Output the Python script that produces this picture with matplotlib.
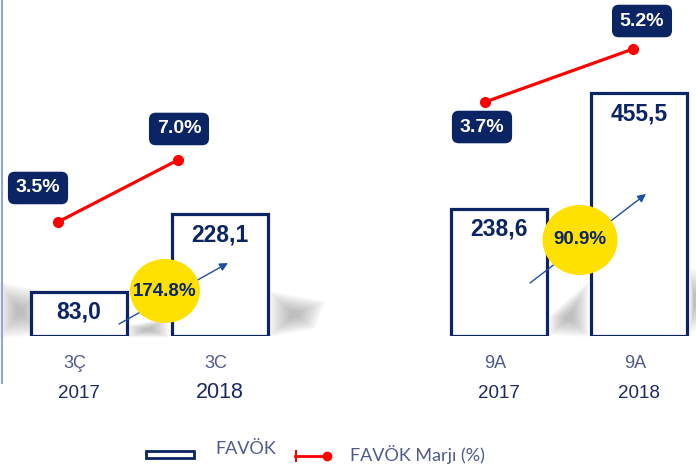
import matplotlib
matplotlib.use("Agg")
import matplotlib.pyplot as plt
from matplotlib.patches import Ellipse, Rectangle, Polygon
import numpy as np

# veriler
periods = ['3Ç', '3C', '9A', '9A']
years = ['2017', '2018', '2017', '2018']
favok = [83.0, 228.1, 238.6, 455.5]          # FAVÖK
margin = [3.5, 7.0, 3.7, 5.2]                # FAVÖK Marjı (%)

# yerlesim (piksel)
W, H = 696, 467
bar_x = [79, 220, 499, 639]
line_x = [58, 178, 485, 633]
lbl_off = [(-20, 34), (1, 31), (-3, -25), (9, 28)]
year_size = [13.5, 15.5, 13.5, 13.5]

navy = '#0B2463'
red = '#FF0000'
yellow = '#FFE100'
grey_blue = '#4F5B8B'

plt.rcParams['font.family'] = ['Liberation Sans', 'DejaVu Sans']

fig = plt.figure(figsize=(W / 100, H / 100), dpi=100)
fig.patch.set_facecolor('white')

# golgeler
sh = fig.add_axes([0, 0, 1, 1])
sh.set_xlim(0, W)
sh.set_ylim(H, 0)
sh.axis('off')
shadows = [
    [(0, 283), (40, 292), (40, 334), (0, 337)],
    [(128, 337), (128, 326), (168, 318), (168, 337)],
    [(270, 336), (270, 292), (324, 302), (314, 328)],
    [(550, 334), (550, 316), (588, 283), (588, 336)],
    [(690, 332), (690, 270), (700, 272), (700, 326)],
]
for pts in shadows:
    pts = np.array(pts, float)
    c = pts.mean(axis=0)
    for s in np.linspace(1.05, 0.2, 14):
        sh.add_patch(Polygon(c + (pts - c) * s, closed=True, fc='#808080',
                             ec='none', alpha=0.045))

# cubuklar
scale = 0.533
ax = fig.add_axes([0, 131 / H, 1, 336 / H])
ax.set_xlim(0, W)
ax.set_ylim(0, 336 / scale)
ax.axis('off')
ax.bar(bar_x, favok, width=96, color='white', edgecolor=navy, linewidth=2.3, zorder=2)
for x, v in zip(bar_x, favok):
    ax.annotate(f"{v:.1f}".replace('.', ','), (x, v), xytext=(0, -9),
                textcoords='offset pixels', ha='center', va='top',
                fontsize=16.5, fontweight='bold', color=navy, zorder=3)

# marj cizgileri
groups = [((0, 1), (-10.33, 16.03)), ((2, 3), (-6.63, 6.587))]
for idx, lim in groups:
    la = fig.add_axes([0, 0, 1, 1])
    la.patch.set_alpha(0)
    la.set_xlim(0, W)
    la.set_ylim(*lim)
    la.axis('off')
    xs = [line_x[i] for i in idx]
    ys = [margin[i] for i in idx]
    la.plot(xs, ys, color=red, lw=2.3, marker='o', ms=7, zorder=3)
    for i in idx:
        la.annotate(f"{margin[i]:.1f}%", (line_x[i], margin[i]), xytext=lbl_off[i],
                    textcoords='offset pixels', ha='center', va='center',
                    fontsize=14, fontweight='bold', color='white',
                    bbox=dict(boxstyle='round,pad=0.4,rounding_size=0.35',
                              fc=navy, ec='none'))

# ust katman: ok, daire, etiketler, lejant
ov = fig.add_axes([0, 0, 1, 1])
ov.patch.set_alpha(0)
ov.set_xlim(0, W)
ov.set_ylim(H, 0)
ov.axis('off')

ov.plot([2, 2], [0, 383], color='#8FA8D8', lw=1.5)

arrows = [((119, 324), (228, 263)), ((530, 283), (646, 194))]
circles = [((165, 291), 70, 64), ((580, 240), 75, 70)]
pairs = [(0, 1), (2, 3)]
for (a, b), (p0, p1), (c, w, h) in zip(pairs, arrows, circles):
    ov.annotate('', xy=p1, xytext=p0,
                arrowprops=dict(arrowstyle='-|>', color='#1F4FA0', lw=1,
                                mutation_scale=12, shrinkA=0, shrinkB=0))
    ov.add_patch(Ellipse(c, w, h, fc=yellow, ec='none', zorder=4))
    growth = (favok[b] / favok[a] - 1) * 100
    ov.text(c[0], c[1], f"{growth:.1f}%", ha='center', va='center', fontsize=13.5,
            fontweight='bold', color=navy, zorder=5)

for x, p, y, fs in zip(bar_x, periods, years, year_size):
    ov.text(x - 4, 363, p, ha='center', va='center', fontsize=13, color=grey_blue)
    ov.text(x, 393, y, ha='center', va='center', fontsize=fs, color='#1B2A5E')

# lejant
ov.add_patch(Rectangle((146, 451), 48, 7, fc='white', ec=navy, lw=2))
ov.text(215, 449, 'FAVÖK', ha='left', va='center', fontsize=13,
        color=grey_blue, family=['Lato', 'DejaVu Sans'])
ov.plot([295, 327], [456, 456], color=red, lw=2)
ov.plot([296, 296], [451, 461], color=red, lw=1.5)
ov.plot([327], [456], 'o', color=red, ms=6)
ov.text(350, 455, 'FAVÖK Marjı (%)', ha='left', va='center', fontsize=13,
        color=grey_blue, family=['Lato', 'DejaVu Sans'])

plt.savefig('out.png', dpi=100)
